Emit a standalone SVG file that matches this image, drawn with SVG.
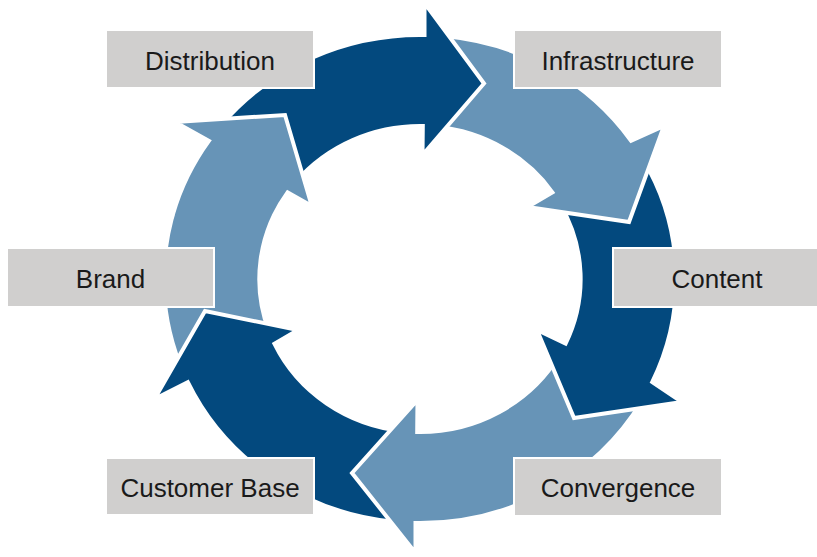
<svg xmlns="http://www.w3.org/2000/svg" xmlns:xlink="http://www.w3.org/1999/xlink" width="817" height="557" viewBox="0 0 817 557">
  <style>
    .arr { stroke: #ffffff; stroke-width: 4; stroke-linejoin: miter; }
    .dark { fill: #03497E; }
    .light { fill: #6794B7; }
    .box { fill: #D0CFCE; stroke: #ffffff; stroke-width: 2; }
    .lbl { font-family: "Liberation Sans", Arial, sans-serif; font-size: 26px; fill: #1a1a1a; text-anchor: middle; }
  </style>
  <defs>
    <clipPath id="headClip">
      <rect x="160" y="100" width="165" height="115"/>
    </clipPath>
  </defs>
  <rect width="817" height="557" fill="#ffffff"/>
  <g id="connectors">
    <path id="a6" class="arr light" d="M179.2,362.4 A256.2,244 0 0 1 208.9,140.8 L175,122 L285,115 L311.8,206 L287.6,192.3 A160.65,153 0 0 0 269.0,331.3 Z"/>
    <path id="a5" class="arr dark" d="M393.2,521.7 A256.2,244 0 0 1 187.8,382.1 L154.5,399 L205,311 L298,330 L274.4,343.7 A160.65,153 0 0 0 403.2,431.2 Z"/>
    <path id="a4" class="arr light" d="M641.9,401 A256.2,244 0 0 1 415.5,523.0 L415.5,553 L352,473 L417.5,400 L417.2,432 A160.65,153 0 0 0 559.1,355.5 Z"/>
    <path id="a3" class="arr dark" d="M643.0,158.9 A256.2,244 0 0 1 652.2,382.1 L682,402 L574,418 L537,330 L565.6,343.7 A160.65,153 0 0 0 559.8,203.7 Z"/>
    <path id="a2" class="arr light" d="M446.8,36.3 A256.2,244 0 0 1 631.1,140.8 L664,126 L629,222 L527.5,207 L552.4,192.3 A160.65,153 0 0 0 436.8,126.8 Z"/>
    <path id="a1" class="arr dark" d="M222.3,123.8 A256.2,244 0 0 1 424.5,35.0 L424.5,3 L484,83.5 L422.5,155 L422.8,126 A160.65,153 0 0 0 296.0,181.7 Z"/>
    <use xlink:href="#a6" href="#a6" clip-path="url(#headClip)"/>
  </g>
  <g id="node-distribution">
    <rect class="box" x="106" y="30" width="208" height="58"/>
    <text class="lbl" x="210" y="69.5">Distribution</text>
  </g>
  <g id="node-infrastructure">
    <rect class="box" x="514" y="30" width="208" height="58"/>
    <text class="lbl" x="618" y="69.5">Infrastructure</text>
  </g>
  <g id="node-content">
    <rect class="box" x="613" y="248" width="208" height="59"/>
    <text class="lbl" x="717" y="288">Content</text>
  </g>
  <g id="node-convergence">
    <rect class="box" x="514" y="458" width="208" height="58"/>
    <text class="lbl" x="618" y="497">Convergence</text>
  </g>
  <g id="node-customer-base">
    <rect class="box" x="106" y="458" width="208" height="57"/>
    <text class="lbl" x="210" y="497">Customer Base</text>
  </g>
  <g id="node-brand">
    <rect class="box" x="7" y="248" width="207" height="59"/>
    <text class="lbl" x="110.5" y="288">Brand</text>
  </g>
</svg>
